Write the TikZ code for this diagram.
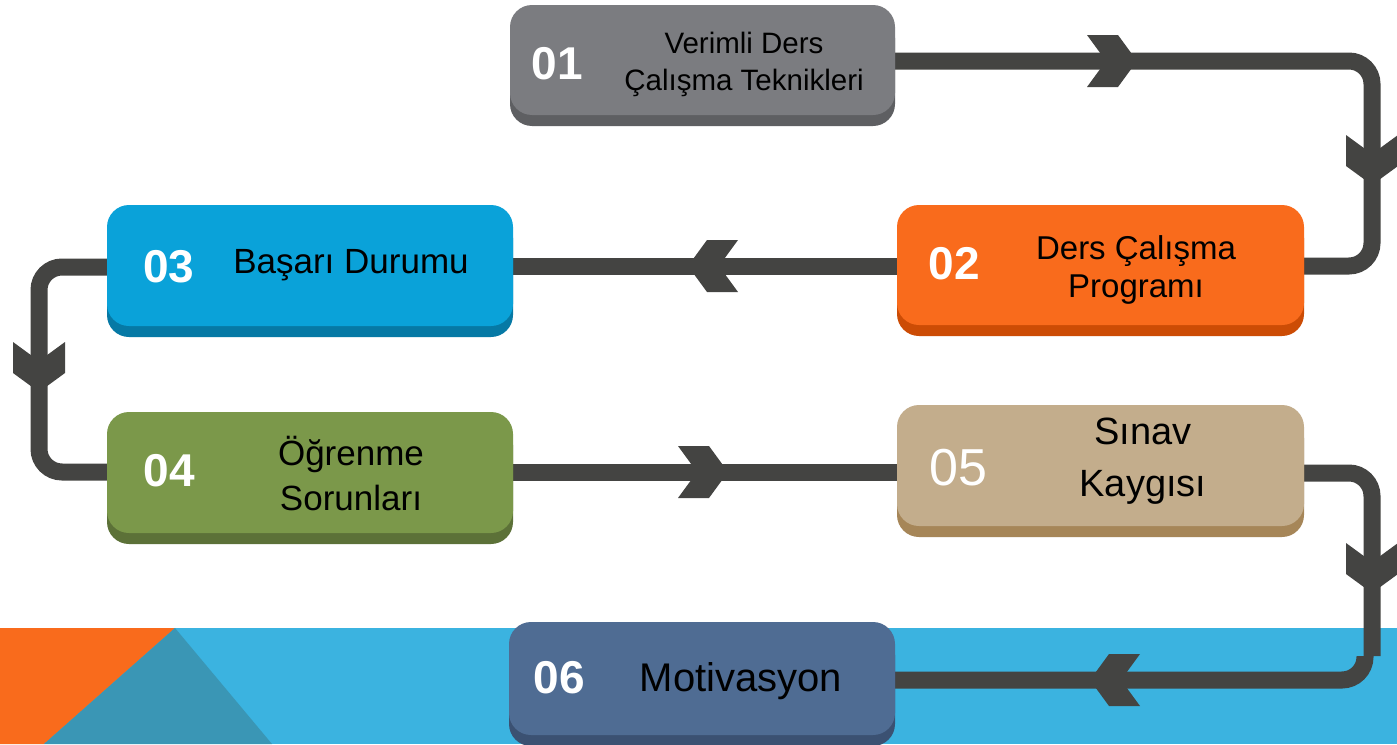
\documentclass[tikz,border=0pt]{standalone}
\usepackage{fontspec}
\setmainfont{Liberation Sans}
\usetikzlibrary{shadows}
\pgfdeclarelayer{back}
\pgfdeclarelayer{bg}
\pgfsetlayers{back,bg,main}
\definecolor{gface}{HTML}{7B7C80}
\definecolor{gshade}{HTML}{5E5F62}
\definecolor{oface}{HTML}{F96B1C}
\definecolor{oshade}{HTML}{CC4C05}
\definecolor{bface}{HTML}{0AA2D9}
\definecolor{bshade}{HTML}{0679A5}
\definecolor{vface}{HTML}{7B984A}
\definecolor{vshade}{HTML}{5C7138}
\definecolor{tface}{HTML}{C3AD8C}
\definecolor{tshade}{HTML}{A68658}
\definecolor{sface}{HTML}{4F6C93}
\definecolor{sshade}{HTML}{3B5172}
\definecolor{conncol}{HTML}{444442}
\definecolor{bandcol}{HTML}{3BB3E0}
\definecolor{tealcol}{HTML}{3A96B5}
\definecolor{corncol}{HTML}{F96B1C}
\tikzset{
  stepbox/.style n args={2}{rounded corners=22pt, inner sep=0pt, draw=none, fill=#1,
    drop shadow={shadow xshift=0pt, shadow yshift=-11pt, opacity=1, fill=#2}},
  num/.style={text=white, font=\bfseries\fontsize{46}{46}\selectfont, inner sep=0pt},
  lbl/.style={text=black, align=center, inner sep=0pt},
  conn/.style={draw=conncol, line width=17pt, rounded corners=23pt},
  chev/.pic={\fill[conncol] (-50,-26) -- (-19,-26) -- (0,0) -- (-19,26) -- (-50,26) -- (-31,0) -- cycle;},
}
\begin{document}
\begin{tikzpicture}[x=1pt, y=-1pt]
\useasboundingbox (0,0) rectangle (1397,744);
\begin{pgfonlayer}{back}
  \fill[white] (0,0) rectangle (1397,744);
  \fill[bandcol] (0,628) rectangle (1397,744);
  \fill[corncol] (0,628) -- (175,628) -- (44,744) -- (0,744) -- cycle;
  \fill[tealcol] (175,628) -- (272,744) -- (44,744) -- cycle;
\end{pgfonlayer}

% boxes
\node[stepbox={gface}{gshade}, minimum width=385pt, minimum height=110pt] (b1) at (702.5,60) {};
\node[stepbox={oface}{oshade}, minimum width=407pt, minimum height=120pt] (b2) at (1100.5,265) {};
\node[stepbox={bface}{bshade}, minimum width=406pt, minimum height=121pt] (b3) at (310,265.5) {};
\node[stepbox={vface}{vshade}, minimum width=406pt, minimum height=121pt] (b4) at (310,472.5) {};
\node[stepbox={tface}{tshade}, minimum width=407pt, minimum height=121pt] (b5) at (1100.5,465.5) {};
\node[stepbox={sface}{sshade}, minimum width=386pt, minimum height=113pt] (b6) at (702,678.5) {};

% numbers
\node[num] (n1) at (557.5,64) {01};
\node[num] (n2) at (954.5,264) {02};
\node[num] (n3) at (169,266.5) {03};
\node[num] (n4) at (169.5,470.5) {04};
\node[num, font=\fontsize{52}{52}\selectfont] (n5) at (958,468) {05};
\node[num] (n6) at (559.5,677.5) {06};

% labels
\node[lbl, font=\fontsize{29.5}{37}\selectfont] (t1) at (744,64) {Verimli Ders\\Çalışma Teknikleri};
\node[lbl, font=\fontsize{33}{38}\selectfont] (t2) at (1136,269.5) {Ders Çalışma\\Programı};
\node[lbl, font=\fontsize{35}{42}\selectfont] (t3) at (351,265) {Başarı Durumu};
\node[lbl, font=\fontsize{35}{45}\selectfont] (t4) at (351,474) {Öğrenme\\Sorunları};
\node[lbl, font=\fontsize{38}{52}\selectfont] (t5) at (1143,461) {Sınav\\Kaygısı};
\node[lbl, font=\fontsize{40}{48}\selectfont] (t6) at (741,681.5) {Motivasyon};

% connectors
\coordinate (c1) at (1372,61);
\coordinate (c2) at (1372,266);
\coordinate (m23) at (700,266);
\coordinate (c4) at (39,267);
\coordinate (c5) at (39,472);
\coordinate (m45) at (700,472);
\coordinate (c6) at (1372,473);
\coordinate (c7) at (1372,656);
\coordinate (c8) at (1365,656);
\coordinate (c9) at (1365,680);
\begin{pgfonlayer}{bg}
  \draw[conn] (b1.east |- c1) -- (c1) -- (c2) -- (b2.east |- c2);
  \draw[conn] (b2.west |- m23) -- (b3.east |- m23);
  \draw[conn] (b3.west |- c4) -- (c4) -- (c5) -- (b4.west |- c5);
  \draw[conn] (b4.east |- m45) -- (b5.west |- m45);
  \draw[conn] (b5.east |- c6) -- (c6) -- (c7);
  \draw[conn] (c8) -- (c9) -- (b6.east |- c9);
  \pic at (1137,61) {chev};
  \pic[rotate=-90] at (1372,185) {chev};
  \pic[rotate=180] at (688,266) {chev};
  \pic[rotate=-90] at (39,392) {chev};
  \pic at (728,472) {chev};
  \pic[rotate=-90] at (1372,593) {chev};
  \pic[rotate=180] at (1090,680) {chev};
\end{pgfonlayer}
\end{tikzpicture}
\end{document}
